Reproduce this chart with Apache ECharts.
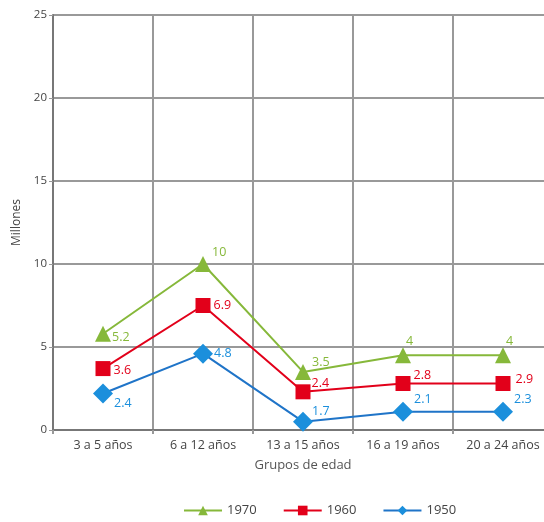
<!DOCTYPE html>
<html>
<head>
<meta charset="utf-8">
<script src="https://cdn.jsdelivr.net/npm/echarts@6/dist/echarts.min.js"></script>
<style>
	html, body { margin: 0; padding: 0; background: #fff; }
	#chart { width: 544px; height: 522px; }
</style>
</head>
<body>
<div id="chart"></div>
<script>
var categories = ['3 a 5 años', '6 a 12 años', '13 a 15 años', '16 a 19 años', '20 a 24 años'];
var yTicks = [0, 5, 10, 15, 20, 25];

// plotted positions as drawn in the picture
var values1970 = [5.8, 10, 3.5, 4.5, 4.5];
var values1960 = [3.7, 7.5, 2.3, 2.8, 2.8];
var values1950 = [2.2, 4.6, 0.5, 1.1, 1.1];

// printed labels next to each point
var labels1970 = ['5.2', '10', '3.5', '4', '4'];
var labels1960 = ['3.6', '6.9', '2.4', '2.8', '2.9'];
var labels1950 = ['2.4', '4.8', '1.7', '2.1', '2.3'];

var green = '#86b83a', red = '#e2001a', blue = '#1b8fdc';
var font = "'Open Sans', sans-serif";

function makeData(vals, labs, offsets) {
	return vals.map(function(v, i) {
		return {
			value: v,
			label: {
				formatter: labs[i],
				offset: offsets[i]
			}
		};
	});
}

function labelStyle(color) {
	return {
		show: true,
		position: 'right',
		color: color,
		fontFamily: font,
		fontSize: 12.5,
		distance: 3
	};
}

var myChart = echarts.init(document.getElementById('chart'));
var option = {
	animation: false,
	grid: {
		left: 53,
		width: 500,
		top: 15,
		bottom: 92,
		outerBoundsMode: 'none'
	},
	legend: {
		bottom: 0,
		left: 178,
		itemWidth: 38,
		itemHeight: 12,
		itemGap: 26,
		textStyle: { color: '#444', fontFamily: font, fontSize: 13 },
		data: ['1970', '1960', '1950']
	},
	xAxis: {
		type: 'category',
		data: categories,
		boundaryGap: true,
		name: 'Grupos de edad',
		nameLocation: 'middle',
		nameGap: 29,
		nameTextStyle: { color: '#555', fontFamily: font, fontSize: 13 },
		axisLine: { show: true, lineStyle: { color: '#777', width: 2 } },
		axisTick: { show: true, length: 4, lineStyle: { color: '#999', width: 2 } },
		axisLabel: { color: '#444', fontFamily: font, fontSize: 12.5, margin: 9 },
		splitLine: { show: true, lineStyle: { color: '#999', width: 2 } }
	},
	yAxis: {
		type: 'value',
		min: yTicks[0],
		max: yTicks[yTicks.length - 1],
		interval: 5,
		name: 'Millones',
		nameLocation: 'middle',
		nameGap: 24,
		nameTextStyle: { color: '#444', fontFamily: font, fontSize: 12 },
		axisLine: { show: true, lineStyle: { color: '#777', width: 2 } },
		axisTick: { show: true, length: 4, lineStyle: { color: '#999', width: 1 } },
		axisLabel: { color: '#444', fontFamily: font, fontSize: 11.5, margin: 6 },
		splitLine: { show: true, lineStyle: { color: '#999', width: 2 } }
	},
	series: [{
		name: '1970',
		type: 'line',
		symbol: 'triangle',
		symbolSize: 16,
		z: 3,
		itemStyle: { color: green },
		lineStyle: { color: green, width: 2 },
		label: labelStyle(green),
		data: makeData(values1970, labels1970, [[-2, 4], [-2, -12], [-2, -9], [-8, -14], [-8, -14]])
	}, {
		name: '1960',
		type: 'line',
		symbol: 'rect',
		symbolSize: 15,
		z: 2,
		itemStyle: { color: red },
		lineStyle: { color: red, width: 2 },
		label: labelStyle(red),
		data: makeData(values1960, labels1960, [[0, 2], [0, 0], [-2, -8], [0, -8], [2, -4]])
	}, {
		name: '1950',
		type: 'line',
		symbol: 'diamond',
		symbolSize: 20,
		z: 1,
		itemStyle: { color: blue },
		lineStyle: { color: '#1f74c8', width: 2 },
		label: labelStyle(blue),
		data: makeData(values1950, labels1950, [[-2, 10], [-2, 0], [-4, -10], [-2, -12], [-2, -12]])
	}]
};
myChart.setOption(option);
</script>
</body>
</html>
